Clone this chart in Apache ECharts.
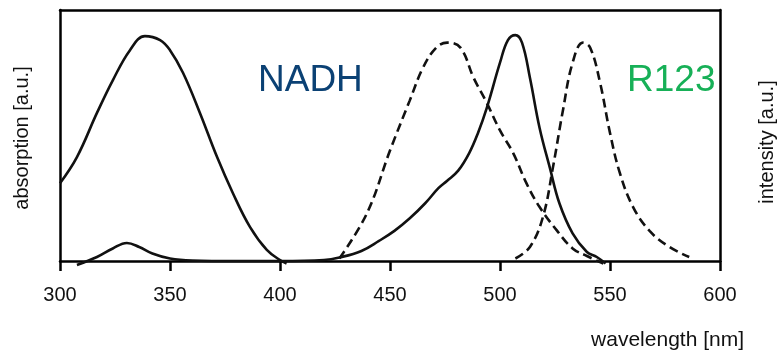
<!DOCTYPE html>
<html>
<head>
<meta charset="utf-8">
<script src="https://cdn.jsdelivr.net/npm/echarts@6/dist/echarts.min.js"></script>
<style>
  html, body { margin: 0; padding: 0; background: #fff; }
  #chart { width: 782px; height: 354px; }
</style>
</head>
<body>
<div id="chart"></div>
<script>
// NADH absorption (solid)
const nadhAbsX = [300, 307.7, 316.8, 324, 331.8, 338.6, 345.5, 350, 355.9, 363.6, 371.4, 378.6, 386.4, 394, 400, 403]
const nadhAbsY = [0.31, 0.414, 0.59, 0.72, 0.84, 0.896, 0.88, 0.84, 0.75, 0.59, 0.414, 0.27, 0.135, 0.044, 0.004, -0.01]

// R123 absorption (solid)
const r123AbsX = [307.7, 316.8, 324, 330.4, 336, 342, 350, 360, 380, 400, 420, 427, 437, 445, 452, 459, 466, 472, 476, 481, 486, 490, 494, 500, 503.6, 507, 510, 513.6, 518, 522.7, 527, 533, 539.5, 544, 548]
const r123AbsY = [-0.016, 0.016, 0.05, 0.072, 0.056, 0.03, 0.01, 0.002, 0, 0, 0.004, 0.014, 0.04, 0.08, 0.12, 0.17, 0.23, 0.29, 0.32, 0.36, 0.43, 0.51, 0.61, 0.79, 0.88, 0.9, 0.87, 0.73, 0.53, 0.37, 0.23, 0.11, 0.036, 0.016, -0.01]

// NADH emission (dashed)
const nadhEmX = [427, 439.5, 450, 459, 465, 471, 476, 482, 488, 494, 500, 506, 512, 518, 526, 533, 539.5, 547]
const nadhEmY = [0.01, 0.19, 0.44, 0.64, 0.77, 0.85, 0.87, 0.85, 0.73, 0.63, 0.52, 0.43, 0.31, 0.215, 0.12, 0.05, 0.02, -0.01]

// R123 emission (dashed)
const r123EmX = [507, 513.6, 519.5, 524, 528.6, 533, 537.7, 541, 545.5, 550, 554.5, 560.5, 568, 577, 586]
const r123EmY = [0.01, 0.056, 0.175, 0.37, 0.6, 0.79, 0.87, 0.85, 0.71, 0.51, 0.35, 0.215, 0.12, 0.056, 0.016]

const xTicks = [300, 350, 400, 450, 500, 550, 600]

const zip = (xs, ys) => xs.map((x, i) => [x, ys[i]])

const font = '"Liberation Sans", Arial, Helvetica, sans-serif'

const chart = echarts.init(document.getElementById('chart'), undefined, { renderer: 'canvas' })

const lineSeries = (name, xs, ys, dashed) => ({
  name,
  type: 'line',
  data: zip(xs, ys),
  smooth: 0.4,
  symbol: 'none',
  clip: false,
  lineStyle: {
    color: '#111',
    width: 2.6,
    type: dashed ? [9, 5] : 'solid',
  },
})

const frameLine = { show: true, onZero: false, lineStyle: { color: '#000', width: 2.5 } }

chart.setOption({
  animation: false,
  grid: { left: 60, top: 10, width: 660, height: 251 },
  xAxis: [
    {
      type: 'value',
      min: xTicks[0],
      max: xTicks[xTicks.length - 1],
      interval: 50,
      axisLine: frameLine,
      axisTick: { show: true, length: 10, lineStyle: { color: '#000', width: 2.5 } },
      axisLabel: { margin: 24, fontSize: 20, color: '#111', fontFamily: font },
      splitLine: { show: false },
    },
    {
      type: 'value',
      position: 'top',
      min: 300,
      max: 600,
      axisLine: frameLine,
      axisTick: { show: false },
      axisLabel: { show: false },
      splitLine: { show: false },
    },
  ],
  yAxis: [
    {
      type: 'value',
      min: 0,
      max: 1,
      axisLine: frameLine,
      axisTick: { show: false },
      axisLabel: { show: false },
      splitLine: { show: false },
    },
    {
      type: 'value',
      position: 'right',
      min: 0,
      max: 1,
      axisLine: frameLine,
      axisTick: { show: false },
      axisLabel: { show: false },
      splitLine: { show: false },
    },
  ],
  series: [
    lineSeries('NADH absorption', nadhAbsX, nadhAbsY, false),
    lineSeries('R123 absorption', r123AbsX, r123AbsY, false),
    lineSeries('NADH emission', nadhEmX, nadhEmY, true),
    lineSeries('R123 emission', r123EmX, r123EmY, true),
  ],
  graphic: [
    {
      type: 'text',
      left: 258,
      top: 62,
      style: { text: 'NADH', fontSize: 37, fill: '#0b4174', fontFamily: font },
    },
    {
      type: 'text',
      left: 627,
      top: 62,
      style: { text: 'R123', fontSize: 37, fill: '#17b057', fontFamily: font },
    },
    {
      type: 'text',
      x: 744,
      y: 340,
      style: { text: 'wavelength [nm]', fontSize: 21, fill: '#111', fontFamily: font, align: 'right', verticalAlign: 'middle' },
    },
    {
      type: 'text',
      x: 22,
      y: 138,
      rotation: Math.PI / 2,
      style: { text: 'absorption [a.u.]', fontSize: 20, fill: '#111', fontFamily: font, align: 'center', verticalAlign: 'middle' },
    },
    {
      type: 'text',
      x: 767,
      y: 142,
      rotation: Math.PI / 2,
      style: { text: 'intensity [a.u.]', fontSize: 20, fill: '#111', fontFamily: font, align: 'center', verticalAlign: 'middle' },
    },
  ],
})
</script>
</body>
</html>
